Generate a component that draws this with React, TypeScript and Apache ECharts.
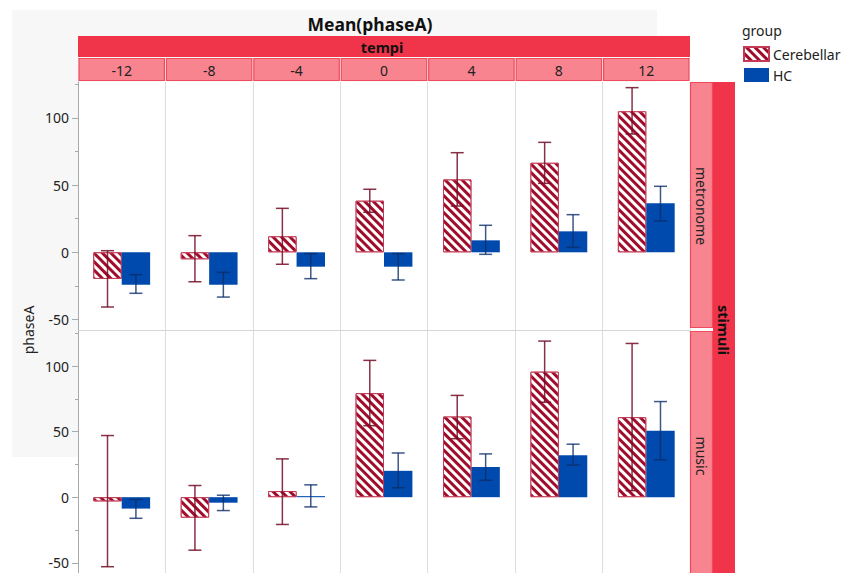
import React, { useEffect, useRef } from "react";
import * as echarts from "echarts";

// tempi facet levels (columns) and stimuli facet levels (rows)
const tempi = ["-12", "-8", "-4", "0", "4", "8", "12"];
const stimuli = ["metronome", "music"];
const groups = ["Cerebellar", "HC"];

// Mean(phaseA) per tempo, and lower / upper error bar ends
const metronomeCerebellarMean = [-19.8, -5.2, 11.9, 38.4, 54.2, 66.6, 104.9];
const metronomeCerebellarLow = [-40.7, -21.9, -8.9, 29.8, 34.4, 51.3, 88.0];
const metronomeCerebellarHigh = [1.2, 12.4, 32.7, 46.9, 74.1, 81.8, 122.5];
const metronomeHCMean = [-24.1, -24.1, -10.7, -10.7, 8.9, 15.6, 36.5];
const metronomeHCLow = [-30.5, -33.3, -19.6, -20.6, -1.5, 3.7, 23.3];
const metronomeHCHigh = [-16.6, -14.9, -1.0, -1.0, 20.1, 28.0, 49.1];

const musicCerebellarMean = [-3.2, -15.6, 4.7, 79.3, 61.5, 95.7, 61.0];
const musicCerebellarLow = [-53.0, -40.4, -20.8, 54.5, 44.6, 72.4, 5.0];
const musicCerebellarHigh = [47.0, 8.9, 29.2, 104.3, 77.6, 119.0, 117.2];
const musicHCMean = [-8.7, -4.2, 0.8, 20.1, 23.0, 32.0, 50.6];
const musicHCLow = [-16.1, -10.2, -7.4, 7.2, 12.9, 24.5, 28.5];
const musicHCHigh = [-1.7, 1.5, 9.4, 33.7, 33.0, 40.4, 72.9];

const yMajorTicks = [-50, 0, 50, 100];
const yMinorTicks = [-25, 25, 75, 125];

const rows = [
  {
    cm: metronomeCerebellarMean, cl: metronomeCerebellarLow, ch: metronomeCerebellarHigh,
    hm: metronomeHCMean, hl: metronomeHCLow, hh: metronomeHCHigh,
  },
  {
    cm: musicCerebellarMean, cl: musicCerebellarLow, ch: musicCerebellarHigh,
    hm: musicHCMean, hl: musicHCLow, hh: musicHCHigh,
  },
];

const FONT = "Noto Sans";
const RED = "#a00d2b";
const BLUE = "#004aad";
const STRIP_DARK = "#f0344a";
const STRIP_LIGHT = "#f7848f";
const STRIP_EDGE = "#f04a5c";

const PLOT_LEFT = 78;
const PLOT_WIDTH = 612;
const ROW_TOPS = [82, 331];
const ROW_HEIGHT = 248;
const Y_MIN = -57.8;
const Y_MAX = 126.7;
const BAR_SPAN = 0.65; // share of each tempo band covered by the two bars

function errorBarRenderer(side: number, color: string) {
  return (params: any, api: any) => {
    const idx = api.value(0);
    const lo = api.coord([idx, api.value(1)]);
    const hi = api.coord([idx, api.value(2)]);
    const band = api.size([1, 0])[0];
    const x = lo[0] + side * band * BAR_SPAN / 4;
    const cap = 6.5;
    const style = { stroke: color, lineWidth: 1.5 };
    return {
      type: "group",
      children: [
        { type: "line", shape: { x1: x, y1: lo[1], x2: x, y2: hi[1] }, style },
        { type: "line", shape: { x1: x - cap, y1: lo[1], x2: x + cap, y2: lo[1] }, style },
        { type: "line", shape: { x1: x - cap, y1: hi[1], x2: x + cap, y2: hi[1] }, style },
      ],
    };
  };
}

export default function App() {
  const ref = useRef<HTMLDivElement>(null);

  useEffect(() => {
    if (!ref.current) return;
    const chart = echarts.init(ref.current, undefined, { renderer: "svg" });

    const grids: any[] = [];
    const xAxes: any[] = [];
    const yAxes: any[] = [];
    const series: any[] = [];

    rows.forEach((r, g) => {
      grids.push({
        left: PLOT_LEFT,
        top: ROW_TOPS[g],
        width: PLOT_WIDTH,
        height: ROW_HEIGHT,
        show: true,
        backgroundColor: "#ffffff",
        borderWidth: 0,
      });
      xAxes.push({
        type: "category",
        gridIndex: g,
        data: tempi,
        boundaryGap: true,
        axisLabel: { show: false },
        axisTick: { show: false },
        axisLine: { show: g === 0, onZero: false, lineStyle: { color: "#d6d6d6", width: 1 } },
        splitLine: { show: true, lineStyle: { color: "#dddddd", width: 1 } },
      });
      // major ticks with labels
      yAxes.push({
        type: "value",
        gridIndex: g,
        position: "left",
        min: Y_MIN,
        max: Y_MAX,
        splitLine: { show: false },
        axisLine: { show: true, lineStyle: { color: "#a9a9a9", width: 1 } },
        axisTick: { show: true, customValues: yMajorTicks, length: 6, lineStyle: { color: "#a9a9a9" } },
        axisLabel: {
          show: true,
          customValues: yMajorTicks,
          fontFamily: FONT,
          fontSize: 14,
          color: "#222",
          margin: 9,
        },
      });
      // minor ticks
      yAxes.push({
        type: "value",
        gridIndex: g,
        position: "left",
        offset: 0,
        min: Y_MIN,
        max: Y_MAX,
        splitLine: { show: false },
        axisLine: { show: false },
        axisTick: { show: true, customValues: yMinorTicks, length: 3, lineStyle: { color: "#a9a9a9" } },
        axisLabel: { show: false },
      });

      series.push({
        name: groups[0],
        type: "bar",
        xAxisIndex: g,
        yAxisIndex: g * 2,
        data: r.cm,
        barGap: "0%",
        barCategoryGap: "35%",
        itemStyle: {
          color: RED,
          borderColor: "#c23a55",
          borderWidth: 1,
          decal: {
            symbol: "rect",
            symbolSize: 1,
            color: "#ffffff",
            dashArrayX: [1, 0],
            dashArrayY: [3, 3],
            rotation: Math.PI / 4,
          },
        },
      });
      series.push({
        name: groups[1],
        type: "bar",
        xAxisIndex: g,
        yAxisIndex: g * 2,
        data: r.hm,
        barGap: "0%",
        barCategoryGap: "35%",
        itemStyle: { color: BLUE },
      });
      series.push({
        name: "errCereb" + g,
        type: "custom",
        xAxisIndex: g,
        yAxisIndex: g * 2,
        renderItem: errorBarRenderer(-1, "rgba(115,12,38,0.85)"),
        encode: { x: 0, y: [1, 2] },
        data: tempi.map((_, i) => [i, r.cl[i], r.ch[i]]),
        z: 5,
      });
      series.push({
        name: "errHC" + g,
        type: "custom",
        xAxisIndex: g,
        yAxisIndex: g * 2,
        renderItem: errorBarRenderer(1, "rgba(12,45,105,0.8)"),
        encode: { x: 0, y: [1, 2] },
        data: tempi.map((_, i) => [i, r.hl[i], r.hh[i]]),
        z: 5,
      });
    });

    // facet headers
    const colW = PLOT_WIDTH / tempi.length;
    const graphics: any[] = [
      { type: "rect", z: -100, shape: { x: 12, y: 10, width: 645, height: 447 }, style: { fill: "#f7f7f7" } },
      {
        type: "text", x: 370, y: 24, z: 100,
        style: { text: "Mean(phaseA)", font: `bold 17.5px "${FONT}"`, fill: "#111", align: "center", verticalAlign: "middle" },
      },
      { type: "rect", z: 100, shape: { x: PLOT_LEFT, y: 36, width: PLOT_WIDTH, height: 21 }, style: { fill: STRIP_DARK } },
      {
        type: "text", x: 382, y: 47, z: 101,
        style: { text: "tempi", font: `bold 14.5px "${FONT}"`, fill: "#111", align: "center", verticalAlign: "middle" },
      },
      {
        type: "text", x: 28, y: 330, z: 101, rotation: Math.PI / 2,
        style: { text: "phaseA", font: `14px "${FONT}"`, fill: "#222", align: "center", verticalAlign: "middle" },
      },
      { type: "rect", z: 100, shape: { x: 713, y: 82, width: 22, height: 500 }, style: { fill: STRIP_DARK } },
      {
        type: "text", x: 724, y: 330, z: 101, rotation: -Math.PI / 2,
        style: { text: "stimuli", font: `bold 14.5px "${FONT}"`, fill: "#111", align: "center", verticalAlign: "middle" },
      },
      {
        type: "text", x: 742, y: 30, z: 101,
        style: { text: "group", font: `14px "${FONT}"`, fill: "#222", align: "left", verticalAlign: "middle" },
      },
    ];
    tempi.forEach((t, i) => {
      const x0 = PLOT_LEFT + i * colW;
      graphics.push({
        type: "rect", z: 100,
        shape: { x: x0 + 1, y: 58.5, width: colW - 2, height: 22 },
        style: { fill: STRIP_LIGHT, stroke: STRIP_EDGE, lineWidth: 1.2 },
      });
      graphics.push({
        type: "text", x: x0 + colW / 2, y: 70, z: 101,
        style: { text: t, font: `14px "${FONT}"`, fill: "#222", align: "center", verticalAlign: "middle" },
      });
    });
    stimuli.forEach((s, g) => {
      graphics.push({
        type: "rect", z: 100,
        shape: { x: 690.5, y: ROW_TOPS[g] + 0.5, width: 22, height: ROW_HEIGHT - 3 },
        style: { fill: STRIP_LIGHT, stroke: STRIP_EDGE, lineWidth: 1.2 },
      });
      graphics.push({
        type: "text", x: 701, y: g === 0 ? 206 : 456, z: 101, rotation: -Math.PI / 2,
        style: { text: s, font: `14px "${FONT}"`, fill: "#222", align: "center", verticalAlign: "middle" },
      });
    });

    chart.setOption({
      animation: false,
      textStyle: { fontFamily: FONT },
      grid: grids,
      xAxis: xAxes,
      yAxis: yAxes,
      series,
      legend: {
        data: groups,
        orient: "vertical",
        left: 743,
        top: 46,
        padding: 0,
        itemWidth: 25,
        itemHeight: 14,
        itemGap: 6,
        icon: "rect",
        textStyle: { fontFamily: FONT, fontSize: 14, color: "#222", padding: [0, 0, 0, -1] },
        selectedMode: false,
      },
      graphic: { elements: graphics },
    });

    return () => chart.dispose();
  }, []);

  return (
    <div
      ref={ref}
      style={{ position: "absolute", left: 0, top: 0, width: 846, height: 573, background: "#fff" }}
    />
  );
}
